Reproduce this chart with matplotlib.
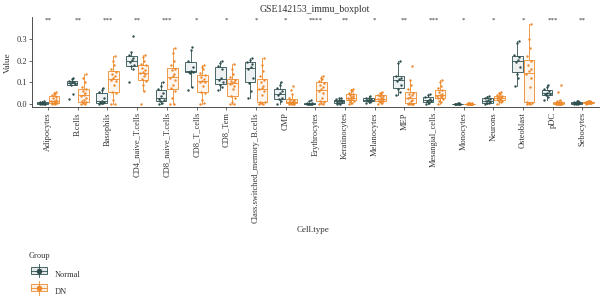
import numpy as np
import matplotlib
matplotlib.use("Agg")
import matplotlib.pyplot as plt
from matplotlib.patches import Rectangle
from matplotlib.lines import Line2D
from matplotlib.legend_handler import HandlerBase

plt.rcParams['font.family'] = ['Liberation Serif', 'DejaVu Serif']

cell_types = ["Adipocytes", "B.cells", "Basophils", "CD4_naive_T.cells",
              "CD8_naive_T.cells", "CD8_T_cells", "CD8_Tem",
              "Class.switched_memory_B.cells", "CMP", "Erythrocytes",
              "Keratinocytes", "Melanocytes", "MEP", "Mesangial_cells",
              "Monocytes", "Neurons", "Osteoblast", "pDC", "Sebocytes"]

signif = ["**", "**", "***", "**", "***", "*", "*", "*", "*", "****",
          "**", "*", "**", "***", "*", "*", "*", "***", "**"]

normal = [
    [0.0, 0.001, 0.002, 0.002, 0.003, 0.003, 0.005, 0.008, 0.01, 0.012],
    [0.025, 0.045, 0.088, 0.092, 0.096, 0.1, 0.103, 0.106, 0.115, 0.12],
    [0.0, 0.003, 0.005, 0.008, 0.01, 0.014, 0.03, 0.055, 0.065, 0.075],
    [0.1, 0.16, 0.175, 0.18, 0.195, 0.205, 0.21, 0.225, 0.24, 0.315],
    [0.0, 0.005, 0.012, 0.02, 0.025, 0.035, 0.05, 0.07, 0.085, 0.1],
    [0.065, 0.08, 0.145, 0.147, 0.149, 0.152, 0.17, 0.2, 0.25, 0.265],
    [0.065, 0.08, 0.088, 0.1, 0.11, 0.12, 0.16, 0.175, 0.19, 0.2],
    [0.03, 0.06, 0.095, 0.12, 0.16, 0.17, 0.185, 0.195, 0.205, 0.21],
    [0.0, 0.015, 0.022, 0.03, 0.04, 0.05, 0.06, 0.075, 0.09, 0.1],
    [0.0, 0.0, 0.001, 0.001, 0.002, 0.002, 0.003, 0.006, 0.015, 0.02],
    [0.0, 0.002, 0.004, 0.008, 0.011, 0.013, 0.017, 0.022, 0.026, 0.03],
    [0.005, 0.009, 0.012, 0.014, 0.017, 0.019, 0.022, 0.027, 0.03, 0.035],
    [0.04, 0.055, 0.068, 0.09, 0.105, 0.115, 0.118, 0.13, 0.19, 0.2],
    [0.0, 0.005, 0.009, 0.012, 0.016, 0.02, 0.025, 0.032, 0.04, 0.045],
    [0.0, 0.0, 0.001, 0.001, 0.001, 0.002, 0.002, 0.002, 0.003, 0.004],
    [0.0, 0.003, 0.005, 0.008, 0.013, 0.017, 0.021, 0.027, 0.031, 0.035],
    [0.085, 0.12, 0.14, 0.17, 0.195, 0.205, 0.215, 0.225, 0.28, 0.29],
    [0.02, 0.032, 0.04, 0.044, 0.048, 0.052, 0.06, 0.068, 0.08, 0.09],
    [0.0, 0.001, 0.002, 0.003, 0.004, 0.006, 0.008, 0.011, 0.013, 0.015],
]

dn = [
    [0.0, 0.002, 0.004, 0.005, 0.007, 0.01, 0.013, 0.014, 0.016, 0.02, 0.028, 0.034, 0.04, 0.046, 0.052, 0.056],
    [0.0, 0.0, 0.003, 0.008, 0.012, 0.02, 0.03, 0.037, 0.043, 0.05, 0.06, 0.068, 0.08, 0.1, 0.12, 0.14],
    [0.0, 0.0, 0.02, 0.05, 0.057, 0.09, 0.105, 0.11, 0.12, 0.13, 0.14, 0.148, 0.16, 0.18, 0.2, 0.22],
    [0.0, 0.06, 0.09, 0.105, 0.115, 0.13, 0.14, 0.143, 0.147, 0.155, 0.165, 0.178, 0.185, 0.2, 0.215, 0.225],
    [0.0, 0.0, 0.03, 0.06, 0.075, 0.09, 0.11, 0.12, 0.13, 0.14, 0.155, 0.16, 0.18, 0.2, 0.235, 0.26],
    [0.0, 0.005, 0.02, 0.05, 0.057, 0.085, 0.1, 0.103, 0.107, 0.115, 0.125, 0.133, 0.145, 0.16, 0.17, 0.18],
    [0.0, 0.0, 0.01, 0.03, 0.037, 0.07, 0.085, 0.092, 0.098, 0.1, 0.108, 0.113, 0.125, 0.14, 0.16, 0.185],
    [0.0, 0.0, 0.005, 0.008, 0.011, 0.04, 0.06, 0.068, 0.072, 0.085, 0.1, 0.112, 0.13, 0.15, 0.18, 0.21],
    [0.0, 0.0, 0.0, 0.001, 0.003, 0.006, 0.008, 0.009, 0.011, 0.014, 0.017, 0.019, 0.03, 0.045, 0.065, 0.085],
    [0.0, 0.0, 0.003, 0.008, 0.015, 0.03, 0.05, 0.06, 0.07, 0.078, 0.088, 0.098, 0.105, 0.115, 0.12, 0.13],
    [0.0, 0.005, 0.01, 0.013, 0.018, 0.022, 0.026, 0.029, 0.031, 0.035, 0.04, 0.044, 0.05, 0.058, 0.064, 0.07],
    [0.0, 0.004, 0.008, 0.012, 0.016, 0.019, 0.022, 0.024, 0.026, 0.03, 0.035, 0.039, 0.043, 0.048, 0.052, 0.055],
    [0.0, 0.0, 0.0, 0.0, 0.005, 0.012, 0.02, 0.027, 0.033, 0.04, 0.048, 0.053, 0.07, 0.09, 0.11, 0.175],
    [0.0, 0.008, 0.015, 0.022, 0.028, 0.032, 0.036, 0.039, 0.041, 0.048, 0.056, 0.063, 0.075, 0.085, 0.1, 0.11],
    [0.0, 0.0, 0.0, 0.001, 0.001, 0.001, 0.001, 0.002, 0.002, 0.002, 0.002, 0.002, 0.003, 0.003, 0.003, 0.004],
    [0.0, 0.008, 0.013, 0.016, 0.02, 0.023, 0.026, 0.027, 0.029, 0.031, 0.033, 0.035, 0.04, 0.045, 0.05, 0.055],
    [0.0, 0.0, 0.003, 0.006, 0.011, 0.08, 0.12, 0.14, 0.15, 0.16, 0.18, 0.2, 0.22, 0.26, 0.3, 0.37],
    [0.0, 0.0, 0.0, 0.0, 0.001, 0.002, 0.002, 0.003, 0.003, 0.005, 0.007, 0.009, 0.012, 0.02, 0.055, 0.09],
    [0.002, 0.003, 0.004, 0.005, 0.006, 0.007, 0.007, 0.008, 0.008, 0.009, 0.009, 0.01, 0.011, 0.012, 0.013, 0.015],
]

groups = ["Normal", "DN"]
c_normal = "#2F4F4F"
c_dn = "#EE8A2C"
txt = "#333333"

# fixed jitter pattern (deterministic)
jit = np.array([-0.09, 0.05, -0.02, 0.1, -0.06, 0.02, 0.08, -0.1, 0.0, 0.06,
                -0.04, 0.09, -0.08, 0.03, -0.01, 0.07])


class BoxKey(HandlerBase):
  # little box + whisker + dot, like the ggplot key
  def create_artists(self, legend, orig, xd, yd, width, height, fontsize, trans):
    col = orig.get_color()
    bw = width * 0.8
    x0 = xd + (width - bw) / 2
    cx = xd + width / 2
    whisk = Line2D([cx, cx], [yd - height * 0.25, yd + height * 1.25], color=col, lw=0.6, transform=trans)
    box = Rectangle((x0, yd + height * 0.1), bw, height * 0.8,
                    facecolor=matplotlib.colors.to_rgba(col, 0.12), edgecolor=col, lw=0.6, transform=trans)
    mid = Line2D([x0, x0 + bw], [yd + height / 2] * 2, color=col, lw=0.6, transform=trans)
    dot = Line2D([cx], [yd + height / 2], marker='o', ms=3, color=col, lw=0, transform=trans)
    return [whisk, box, mid, dot]


fig = plt.figure(figsize=(6, 2.98), dpi=100)
ax = fig.add_axes([0.053, 0.64, 0.945, 0.302])

x = np.arange(len(cell_types))
off = 0.2
w = 0.36

for vals, pos, col in [(normal, x - off, c_normal), (dn, x + off, c_dn)]:
  ax.boxplot(vals, positions=pos, widths=w, showfliers=False, patch_artist=True,
             boxprops=dict(facecolor=matplotlib.colors.to_rgba(col, 0.08), edgecolor=col, lw=0.6),
             medianprops=dict(color=col, lw=0.6),
             whiskerprops=dict(color=col, lw=0.6),
             capprops=dict(lw=0), manage_ticks=False)
  for i, v in enumerate(vals):
    v = np.asarray(v)
    ax.scatter(pos[i] + jit[:len(v)] * 0.9, v, s=3, color=col, lw=0, zorder=3)

for i, s in enumerate(signif):
  ax.text(x[i], 0.385, s, ha='center', va='center', fontsize=5, color=txt)

ax.set_xlim(-0.55, len(cell_types) - 0.45)
ax.set_ylim(-0.015, 0.4)
ax.set_yticks([0.0, 0.1, 0.2, 0.3])
ax.set_yticklabels(["0.0", "0.1", "0.2", "0.3"])
ax.set_xticks(x)
ax.set_xticklabels(cell_types, rotation=90, fontsize=6, color=txt)
ax.tick_params(axis='y', labelsize=6, colors=txt, length=2, width=0.5, pad=1.5)
ax.tick_params(axis='x', length=2, width=0.5, pad=1.5, colors=txt)
for sp in ['top', 'right']:
  ax.spines[sp].set_visible(False)
for sp in ['left', 'bottom']:
  ax.spines[sp].set_linewidth(0.6)
  ax.spines[sp].set_color(txt)

ax.set_ylabel("Value", fontsize=6.5, color=txt, labelpad=3)
ax.set_title("GSE142153_immu_boxplot", fontsize=7, color=txt, pad=4)
fig.text(0.522, 0.228, "Cell.type", ha='center', va='center', fontsize=6.5, color=txt)

handles = [Line2D([], [], color=c) for c in [c_normal, c_dn]]
leg = fig.legend(handles, groups, title="Group", loc='upper left',
                 bbox_to_anchor=(0.035, 0.18), frameon=False, fontsize=6,
                 title_fontsize=6, handlelength=2.5, handleheight=1.25,
                 handletextpad=0.7, labelspacing=0.95,
                 handler_map={Line2D: BoxKey()}, alignment='left')
leg._legend_box.sep = 7
for t in leg.get_texts():
  t.set_color(txt)
leg.get_title().set_color(txt)

fig.savefig("out.png", dpi=100)
